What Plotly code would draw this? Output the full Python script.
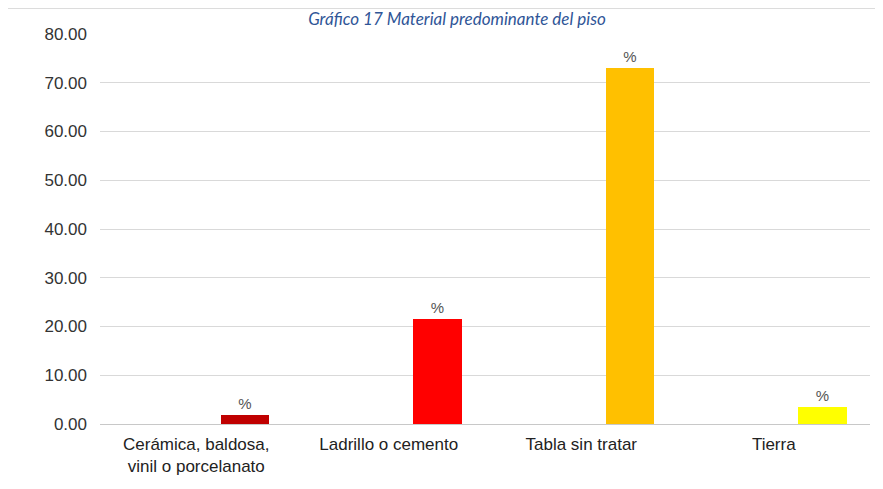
import plotly.graph_objects as go

categories = ["Cerámica, baldosa,<br>vinil o porcelanato", "Ladrillo o cemento", "Tabla sin tratar", "Tierra"]
values = [1.76, 21.55, 73.0, 3.5]
colors = ["#C00000", "#FF0000", "#FFC000", "#FFFF00"]
bar_labels = ["%", "%", "%", "%"]
title_text = "Gráfico 17 Material predominante del piso"

# page body adds an 8px offset, so the figure is 8px smaller on each axis
OFF = 8
W, H = 883 - OFF, 489 - OFF
ml, mr, mt, mb = 100 - OFF, 13, 34 - OFF, 489 - 424
pw = W - ml - mr
ph = H - mt - mb

fig = go.Figure()
fig.add_trace(go.Bar(
    x=categories, y=values,
    marker=dict(color=colors, line=dict(width=0)),
    width=0.25, offset=0.128,
    text=bar_labels, textposition="outside", cliponaxis=False,
    textfont=dict(family="Liberation Sans, Arial, sans-serif", size=15, color="#555555"),
    hoverinfo="x+y",
))

fig.add_shape(type="rect", xref="paper", yref="paper",
              x0=(7 - 100) / pw, x1=(W + 5 - ml) / pw,
              y0=-(H + 5 - (H - mb)) / ph, y1=1 + (mt - 0.5) / ph,
              line=dict(color="#dcdcdc", width=1), layer="below")

fig.update_layout(
    width=W, height=H,
    margin=dict(l=ml, r=mr, t=mt, b=mb),
    paper_bgcolor="white", plot_bgcolor="white",
    showlegend=False,
    title=dict(text="<i>" + title_text + "</i>", x=(457 - OFF) / W, xanchor="center",
               xref="container", y=1 - 5 / H, yanchor="top", pad=dict(t=0, b=0),
               font=dict(family="Lato, Open Sans, sans-serif", size=17, color="#2F5597")),
    font=dict(family="Liberation Sans, Arial, sans-serif", size=17, color="#333333"),
    bargap=0,
)
fig.update_xaxes(
    type="category", range=[-0.5, 3.5], showgrid=False, showline=False,
    ticks="", ticklabelstandoff=8,
    tickfont=dict(family="Liberation Sans, Arial, sans-serif", size=17, color="#222222"),
)
fig.update_yaxes(
    range=[0, 80], dtick=10, tickformat=".2f",
    showgrid=True, gridcolor="#d9d9d9", gridwidth=1,
    zeroline=True, zerolinecolor="#c8c8c8", zerolinewidth=1,
    showline=False, ticks="", ticklabelstandoff=12,
    tickfont=dict(family="Liberation Sans, Arial, sans-serif", size=17, color="#333333"),
)

fig.write_html("out.html")
